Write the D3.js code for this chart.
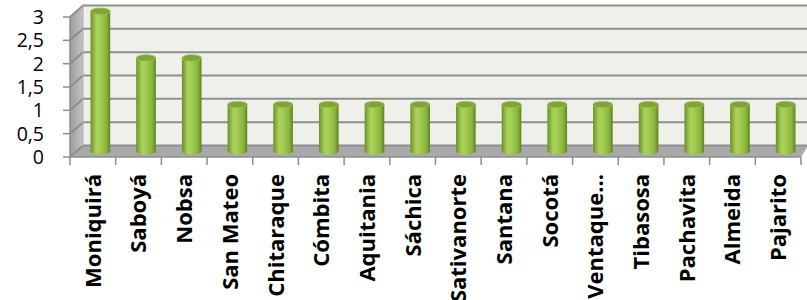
<!DOCTYPE html>
<html><head><meta charset="utf-8">
<script src="https://cdn.jsdelivr.net/npm/d3@7"></script>
<style>body{margin:0;background:#fff}svg{display:block}</style>
</head><body>
<svg id="c" width="807" height="300"></svg>
<script>
const categories = ["Moniquirá","Saboyá","Nobsa","San Mateo","Chitaraque","Cómbita","Aquitania","Sáchica","Sativanorte","Santana","Socotá","Ventaque…","Tibasosa","Pachavita","Almeida","Pajarito"];
const values = [3,2,2,1,1,1,1,1,1,1,1,1,1,1,1,1];
const yTicks = [0,0.5,1,1.5,2,2.5,3];
const yTickLabels = ["0","0,5","1","1,5","2","2,5","3"];

const svg = d3.select("#c");
const defs = svg.append("defs");
const x = d3.scaleBand().domain(categories).range([70, 801]).padding(0);
const yF = d3.scaleLinear().domain([0,3]).range([157,17]);
const DX = 13, DY = -11.5;
const yB = v => yF(v) + DY;

// gradients
const gb = defs.append("linearGradient").attr("id","barG").attr("x1",0).attr("x2",1).attr("y1",0).attr("y2",0);
[[0,"#6c9128"],[0.3,"#a9d35c"],[0.5,"#a2cc53"],[0.8,"#8ab63e"],[1,"#5f8421"]].forEach(s=>gb.append("stop").attr("offset",s[0]).attr("stop-color",s[1]));
const gs = defs.append("linearGradient").attr("id","sideG").attr("x1",0).attr("x2",1).attr("y1",0).attr("y2",0);
[[0,"#9c9c9c"],[1,"#c4c4c4"]].forEach(s=>gs.append("stop").attr("offset",s[0]).attr("stop-color",s[1]));

const xL = 70, xR = 807;
// back wall
svg.append("rect").attr("x", xL+DX).attr("y", yB(3)).attr("width", xR-(xL+DX)).attr("height", yB(0)-yB(3)).attr("fill","#eef0e9");
// side wall
svg.append("path").attr("d", `M${xL},${yF(0)}L${xL},${yF(3)}L${xL+DX},${yB(3)}L${xL+DX},${yB(0)}Z`).attr("fill","url(#sideG)");
// floor
svg.append("path").attr("d", `M${xL},${yF(0)}L${xL+DX},${yB(0)}L${xR},${yB(0)}L${xR},${yB(0)+2}L${801},${yF(0)}Z`).attr("fill","#a9a9a9");
// gridlines
yTicks.forEach(t=>{
  svg.append("path").attr("d", `M${xL},${yF(t)}L${xL+DX},${yB(t)}L${xR},${yB(t)}`)
    .attr("fill","none").attr("stroke","#8e8e8e").attr("stroke-width",2);
});
svg.append("line").attr("x1",xL+DX).attr("x2",xL+DX).attr("y1",yB(3)).attr("y2",yB(0)).attr("stroke","#b0b0b0");

// axes
svg.append("line").attr("x1",xL).attr("x2",xL).attr("y1",yF(3)).attr("y2",yF(0)).attr("stroke","#8e8e8e").attr("stroke-width",1.5);
svg.append("line").attr("x1",xL).attr("x2",801).attr("y1",yF(0)).attr("y2",yF(0)).attr("stroke","#8e8e8e").attr("stroke-width",1.5);
yTicks.forEach((t,i)=>{
  svg.append("line").attr("x1",63).attr("x2",xL).attr("y1",yF(t)).attr("y2",yF(t)).attr("stroke","#8e8e8e").attr("stroke-width",1.5);
  svg.append("text").attr("x",44).attr("y",yF(t)).attr("dy","0.36em").attr("text-anchor","end")
    .attr("font-family","Open Sans").attr("font-size",19.5).attr("fill","#000").text(yTickLabels[i]);
});
const edges = categories.map(c=>x(c)).concat([x.range()[1]]);
edges.forEach(e=>{
  svg.append("line").attr("x1",e).attr("x2",e).attr("y1",yF(0)).attr("y2",yF(0)+8).attr("stroke","#8e8e8e").attr("stroke-width",1.5);
});

// bars (cylinders at mid depth)
const bw = x.bandwidth()*0.43, ry = 3.2;
categories.forEach((c,i)=>{
  const cx = x(c)+x.bandwidth()/2 + DX/2 + 1;
  const y0 = yF(0)+DY/2, y1 = yF(values[i])+DY/2;
  const g = svg.append("g");
  g.append("ellipse").attr("cx",cx).attr("cy",y0).attr("rx",bw/2).attr("ry",ry).attr("fill","url(#barG)");
  g.append("rect").attr("x",cx-bw/2).attr("y",y1).attr("width",bw).attr("height",y0-y1).attr("fill","url(#barG)");
  g.append("ellipse").attr("cx",cx).attr("cy",y1).attr("rx",bw/2).attr("ry",ry).attr("fill","#7fa535").attr("stroke","#9cc452").attr("stroke-width",0.8);
});

// category labels
categories.forEach(c=>{
  const cx = x(c)+x.bandwidth()/2;
  svg.append("text").attr("transform",`translate(${cx},174) rotate(-90)`).attr("dy","0.36em")
    .attr("text-anchor","end").attr("font-family","Open Sans").attr("font-weight","bold").attr("font-size",22)
    .attr("fill","#000").text(c);
});
</script>
</body></html>
